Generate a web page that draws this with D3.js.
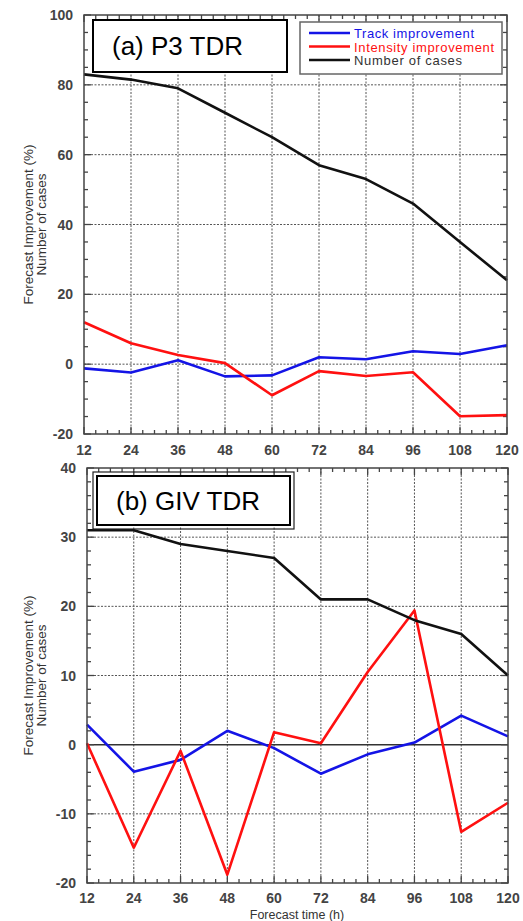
<!DOCTYPE html>
<html>
<head>
<meta charset="utf-8">
<script src="https://cdn.jsdelivr.net/npm/d3@7"></script>
<style>
  body { margin: 0; background: #fff; }
  svg { display: block; font-family: "Liberation Sans", Arial, sans-serif; }
</style>
</head>
<body>
<div id="chart"></div>
<script>
// forecast hours
const hours = [12, 24, 36, 48, 60, 72, 84, 96, 108, 120];

// (a) P3 TDR
const p3Track = [-1.2, -2.4, 1.1, -3.5, -3.2, 2.0, 1.4, 3.7, 2.9, 5.4];
const p3Intensity = [12.0, 6.0, 2.6, 0.3, -8.9, -2.0, -3.4, -2.3, -14.9, -14.6];
const p3Cases = [83, 81.5, 79, 72, 65, 57, 53, 46, 35, 24];
const p3YTicks = [-20, 0, 20, 40, 60, 80, 100];

// (b) GIV TDR
const givTrack = [2.9, -3.9, -2.2, 2.0, -0.5, -4.2, -1.4, 0.3, 4.2, 1.2];
const givIntensity = [0.2, -14.9, -0.9, -18.8, 1.8, 0.2, 10.5, 19.4, -12.6, -8.4];
const givCases = [31, 31, 29, 28, 27, 21, 21, 18, 16, 10];
const givYTicks = [-20, -10, 0, 10, 20, 30, 40];

const legendNames = ["Track improvement", "Intensity improvement", "Number of cases"];
const colors = ["#1414e6", "#ff1010", "#111111"];

const width = 523, height = 921;
const svg = d3.select("#chart").append("svg")
  .attr("width", width)
  .attr("height", height);

function drawPanel(opt) {
  const x = d3.scaleLinear().domain([12, 120]).range([opt.left, opt.right]);
  const y = d3.scaleLinear().domain(opt.yDomain).range([opt.bottom, opt.top]);
  const g = svg.append("g");

  // grid
  g.selectAll(".gx").data(hours.slice(1, -1)).enter().append("line")
    .attr("x1", d => x(d)).attr("x2", d => x(d))
    .attr("y1", opt.top).attr("y2", opt.bottom)
    .attr("stroke", "#555").attr("stroke-width", 1)
    .attr("stroke-dasharray", "2,1.5");
  g.selectAll(".gy").data(opt.yTicks.slice(1, -1)).enter().append("line")
    .attr("x1", opt.left).attr("x2", opt.right)
    .attr("y1", d => y(d)).attr("y2", d => y(d))
    .attr("stroke", "#555").attr("stroke-width", 1)
    .attr("stroke-dasharray", "2,1.5")
    .attr("visibility", d => (opt.zeroLine && d === 0) ? "hidden" : "visible");

  if (opt.zeroLine) {
    g.append("line")
      .attr("x1", opt.left).attr("x2", opt.right)
      .attr("y1", y(0)).attr("y2", y(0))
      .attr("stroke", "#333").attr("stroke-width", 1.5);
  }

  // minor / major ticks, pointing inward on all sides
  const xMinor = d3.range(12, 120.1, 3);
  g.selectAll(".tb").data(xMinor).enter().append("line")
    .attr("x1", d => x(d)).attr("x2", d => x(d))
    .attr("y1", opt.bottom).attr("y2", d => opt.bottom - ((d % 12 === 0) ? 7 : 4))
    .attr("stroke", "#444").attr("stroke-width", 1.3);
  g.selectAll(".tt").data(xMinor).enter().append("line")
    .attr("x1", d => x(d)).attr("x2", d => x(d))
    .attr("y1", opt.top).attr("y2", d => opt.top + ((d % 12 === 0) ? 7 : 4))
    .attr("stroke", "#444").attr("stroke-width", 1.3);
  const yMinor = d3.range(opt.yDomain[0], opt.yDomain[1] + 0.01, opt.yMinorStep);
  const yMajorStep = opt.yTicks[1] - opt.yTicks[0];
  const isMajor = d => Math.abs(((d - opt.yDomain[0]) / yMajorStep) - Math.round((d - opt.yDomain[0]) / yMajorStep)) < 1e-6;
  g.selectAll(".tl").data(yMinor).enter().append("line")
    .attr("x1", opt.left).attr("x2", d => opt.left + (isMajor(d) ? 7 : 4))
    .attr("y1", d => y(d)).attr("y2", d => y(d))
    .attr("stroke", "#444").attr("stroke-width", 1.3);
  g.selectAll(".tr").data(yMinor).enter().append("line")
    .attr("x1", opt.right).attr("x2", d => opt.right - (isMajor(d) ? 7 : 4))
    .attr("y1", d => y(d)).attr("y2", d => y(d))
    .attr("stroke", "#444").attr("stroke-width", 1.3);

  // data lines
  const line = d3.line().x((d, i) => x(hours[i])).y(d => y(d));
  opt.series.forEach((s, i) => {
    g.append("path")
      .datum(s)
      .attr("fill", "none")
      .attr("stroke", colors[i])
      .attr("stroke-width", 2.6)
      .attr("stroke-linejoin", "round")
      .attr("d", line);
  });

  // frame
  g.append("rect")
    .attr("x", opt.left).attr("y", opt.top)
    .attr("width", opt.right - opt.left).attr("height", opt.bottom - opt.top)
    .attr("fill", "none").attr("stroke", "#444").attr("stroke-width", 1.5);

  // tick labels
  g.selectAll(".yl").data(opt.yTicks).enter().append("text")
    .attr("x", opt.left - 11).attr("y", d => y(d) + 5)
    .attr("text-anchor", "end")
    .attr("font-size", 14).attr("font-weight", "bold").attr("fill", "#444")
    .text(d => d);
  g.selectAll(".xl").data(hours).enter().append("text")
    .attr("x", d => x(d)).attr("y", opt.xLabelY)
    .attr("text-anchor", "middle")
    .attr("font-size", 14).attr("font-weight", "bold").attr("fill", "#444")
    .text(d => d);

  // y axis title
  const cy = (opt.top + opt.bottom) / 2;
  const yt = g.append("text")
    .attr("transform", `translate(33,${cy}) rotate(-90)`)
    .attr("text-anchor", "middle")
    .attr("font-size", 13.5).attr("fill", "#333");
  yt.append("tspan").attr("x", 0).attr("dy", 0).text("Forecast Improvement (%)");
  yt.append("tspan").attr("x", 0).attr("dy", 13).text("Number of cases");

  // title box
  const tb = opt.titleBox;
  g.append("rect")
    .attr("x", tb[0]).attr("y", tb[1]).attr("width", tb[2]).attr("height", tb[3])
    .attr("fill", "#fff").attr("stroke", "#000").attr("stroke-width", 2);
  if (opt.doubleBox) {
    g.append("rect")
      .attr("x", tb[0] - 4).attr("y", tb[1] - 4).attr("width", tb[2] + 8).attr("height", tb[3] + 8)
      .attr("fill", "none").attr("stroke", "#222").attr("stroke-width", 1.2);
  }
  g.append("text")
    .attr("x", tb[0] + 19).attr("y", tb[1] + tb[3] / 2 + 9)
    .attr("font-size", 26).attr("fill", "#000")
    .text(opt.title);

  return g;
}

drawPanel({
  left: 84, right: 507, top: 15, bottom: 434,
  yDomain: [-20, 100], yTicks: p3YTicks, yMinorStep: 5,
  series: [p3Track, p3Intensity, p3Cases],
  xLabelY: 455,
  title: "(a) P3 TDR",
  titleBox: [93, 20, 194, 52]
});

drawPanel({
  left: 87, right: 508, top: 468, bottom: 883,
  yDomain: [-20, 40], yTicks: givYTicks, yMinorStep: 2,
  series: [givTrack, givIntensity, givCases],
  xLabelY: 903, zeroLine: true,
  title: "(b) GIV TDR",
  titleBox: [97, 476, 193, 49], doubleBox: true
});

// legend (top panel)
const lg = svg.append("g").attr("transform", "translate(300,22)");
lg.append("rect")
  .attr("width", 202).attr("height", 52)
  .attr("fill", "#fff").attr("stroke", "#666").attr("stroke-width", 1.5);
legendNames.forEach((name, i) => {
  const yy = 11 + i * 13.5;
  lg.append("line")
    .attr("x1", 9).attr("x2", 50).attr("y1", yy).attr("y2", yy)
    .attr("stroke", colors[i]).attr("stroke-width", 2.6);
  lg.append("text")
    .attr("x", 54).attr("y", yy + 5)
    .attr("font-size", 13).attr("fill", i === 2 ? "#333" : colors[i])
    .attr("textLength", i === 0 ? 120 : (i === 1 ? 140 : 108))
    .text(name);
});

// x axis title
svg.append("text")
  .attr("x", 297).attr("y", 919)
  .attr("text-anchor", "middle")
  .attr("font-size", 12.5).attr("fill", "#333")
  .text("Forecast time (h)");
</script>
</body>
</html>
